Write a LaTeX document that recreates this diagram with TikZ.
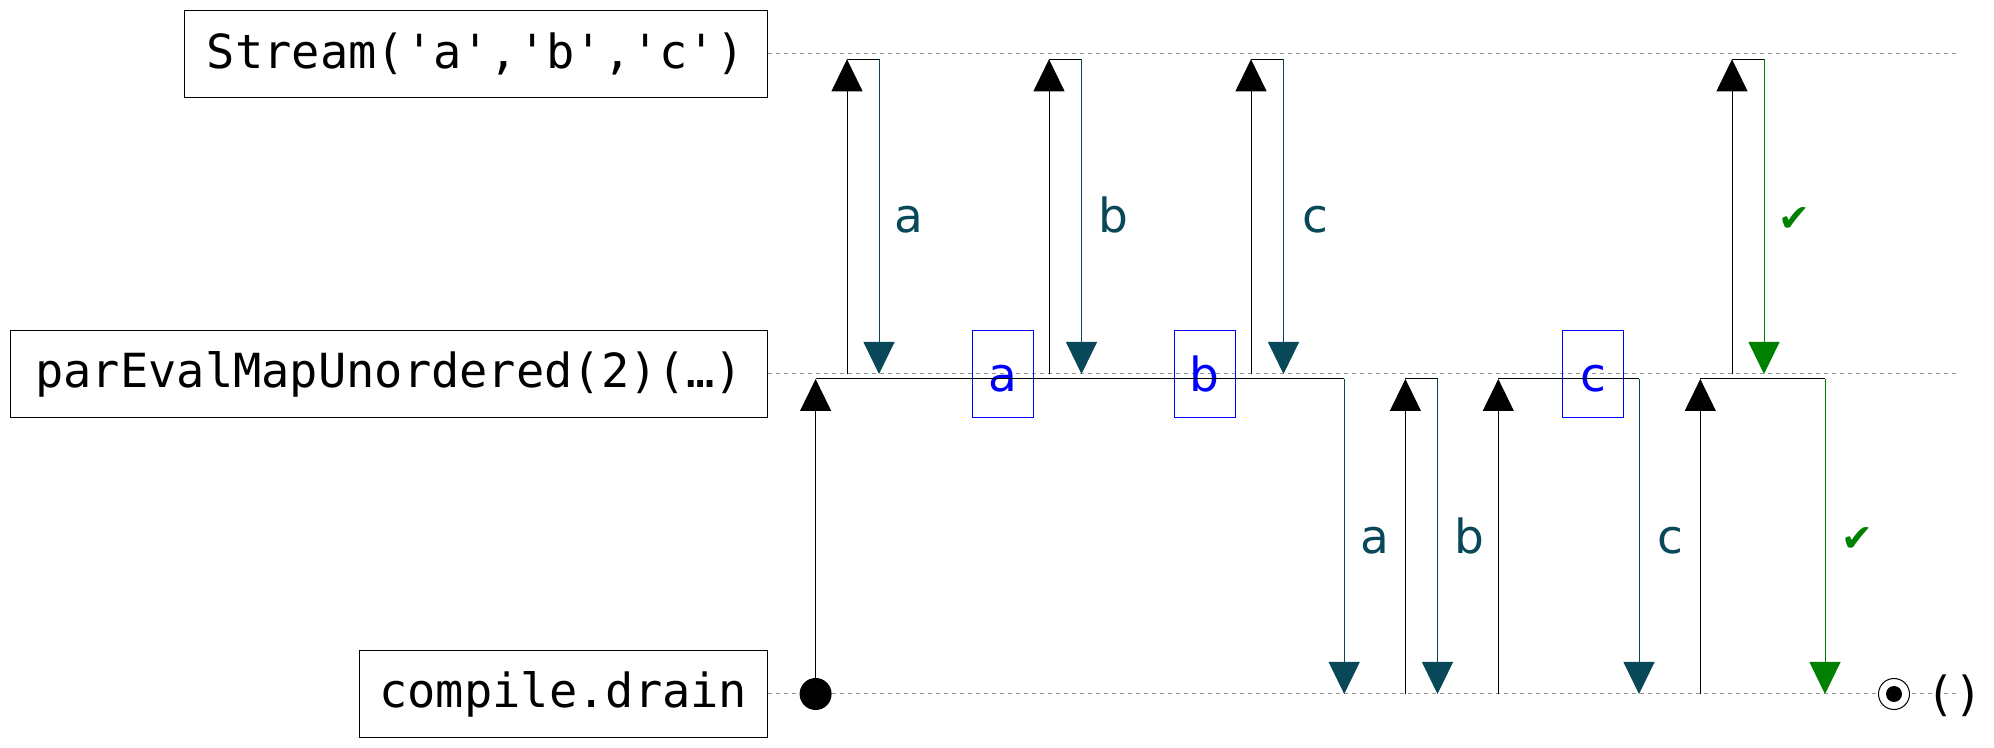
\documentclass[tikz,border=0pt]{standalone}
\usepackage{fontspec}
\setmainfont{DejaVu Sans}
\setmonofont{DejaVu Sans Mono}
\usetikzlibrary{arrows.meta}
\definecolor{msgteal}{RGB}{8,72,88}
\definecolor{okgreen}{RGB}{0,128,0}
\begin{document}
\begin{tikzpicture}[x=0.5pt,y=-0.5pt,
  lifebox/.style={draw, line width=0.7pt, font=\ttfamily\fontsize{23.5}{28}\selectfont,
    inner xsep=4pt, inner ysep=0pt, minimum height=43.5pt, anchor=east},
  lifeline/.style={draw=gray!85, line width=0.5pt, dash pattern=on 2pt off 2pt},
  tipstyle/.style={-{Triangle[width=15.5pt,length=16pt]}},
  upar/.style={tipstyle, draw=black, line width=0.5pt},
  link/.style={draw=black, line width=0.5pt},
  dnar/.style={tipstyle, draw=msgteal, line width=0.5pt},
  okar/.style={tipstyle, draw=okgreen, line width=0.5pt},
  lbl/.style={anchor=base, text=msgteal, font=\fontsize{23.5}{28}\selectfont},
  oklbl/.style={anchor=base, text=okgreen, font=\fontsize{19}{22}\selectfont},
  buf/.style={draw=blue, line width=0.5pt, text=blue, minimum width=30.5pt, inner xsep=0pt,
    inner ysep=0pt, text height=30.5pt, text depth=13pt, font=\fontsize{23.5}{28}\selectfont}
]
\path[use as bounding box] (0,0) rectangle (1994,748);

% lifelines
\node[lifebox, minimum width=291.5pt] (S) at (768,54) {Stream('a','b','c')};
\node[lifebox, minimum width=378.3pt] (P) at (768,374) {parEvalMapUnordered(2)(…)};
\node[lifebox, minimum width=204pt] (D) at (768,694) {compile.drain};
\coordinate (Send) at (1960,54);
\coordinate (Pend) at (1960,374);
\coordinate (Dend) at (1960,694);
\draw[lifeline] (S.east) -- (Send);
\draw[lifeline] (P.east) -- (Pend);
\draw[lifeline] (D.east) -- (Dend);

% buffer boxes
\node[buf] (ba) at (1003,374) {a};
\node[buf] (bb) at (1204.5,374) {b};
\node[buf] (bc) at (1593,374) {c};

% upstream requests / responses
\foreach \n/\xu/\xd/\sty in {1/847/879/dnar, 2/1049/1081.5/dnar, 3/1251/1283.5/dnar, 4/1732/1764/okar}{
  \coordinate (tu\n s) at (\xu,374);
  \coordinate (tu\n e) at (\xu,59.3);
  \coordinate (td\n s) at (\xd,59.3);
  \coordinate (td\n e) at (\xd,374);
  \draw[upar] (tu\n s) -- (tu\n e);
  \draw[link] (tu\n e) -- (td\n s);
  \draw[\sty] (td\n s) -- (td\n e);
}
\node[lbl] (la1) at (909,233) {a};
\node[lbl] (lb1) at (1113,233) {b};
\node[lbl] (lc1) at (1315,233) {c};
\node[oklbl] (lok1) at (1794,232) {✔};

% downstream
\node[circle, fill=black, inner sep=0pt, minimum size=16pt] (start) at (815.6,694) {};
\coordinate (bu1e) at (815.6,379);
\foreach \n/\xu in {2/1405.4, 3/1498.3, 4/1700.3}{
  \coordinate (bu\n s) at (\xu,694);
  \coordinate (bu\n e) at (\xu,379);
}
\foreach \n/\xd in {1/1344.2, 2/1437.5, 3/1639, 4/1825}{
  \coordinate (bd\n s) at (\xd,379);
  \coordinate (bd\n e) at (\xd,694);
}
\draw[upar] (start.center) -- (bu1e);
\foreach \n in {2,3,4}{\draw[upar] (bu\n s) -- (bu\n e);}
\foreach \n/\sty in {1/dnar,2/dnar,3/dnar,4/okar}{
  \draw[link] (bu\n e) -- (bd\n s);
  \draw[\sty] (bd\n s) -- (bd\n e);
}
\node[lbl] (la2) at (1375,554) {a};
\node[lbl] (lb2) at (1469,554) {b};
\node[lbl] (lc2) at (1670,554) {c};
\node[oklbl] (lok2) at (1857,552) {✔};

% completion
\node[circle, draw=black, fill=white, line width=0.5pt, inner sep=0pt, minimum size=15.5pt] (done) at (1894,694) {};
\node[circle, fill=black, inner sep=0pt, minimum size=8pt] (donein) at (done.center) {};
\node[anchor=base, font=\ttfamily\fontsize{23.5}{28}\selectfont, inner sep=0pt] (unit) at (1954.5,711) {()};
\end{tikzpicture}
\end{document}
